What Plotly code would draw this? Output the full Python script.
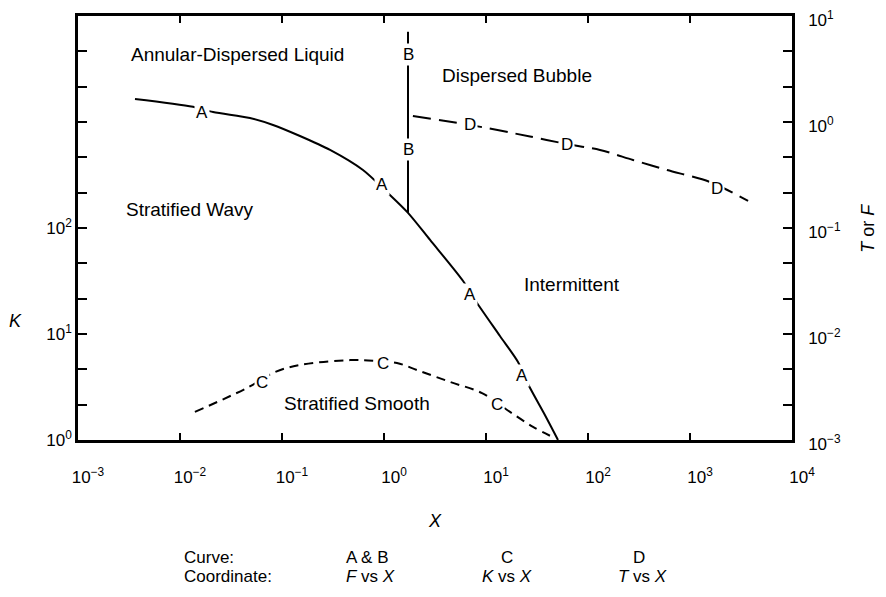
import numpy as np
import plotly.graph_objects as go

FONT = "Liberation Sans, Arial, Helvetica, sans-serif"

# ---- data ----
# Curve A: F vs X (right axis)
a_x = [0.00362, 0.0134, 0.0211, 0.0485, 0.0817, 0.150, 0.296, 0.622, 1.09, 1.72,
       2.83, 5.96, 8.17, 13.7, 20.6, 25.8, 37.8, 50.8]
a_f = [1.65, 1.39, 1.24, 1.09, 0.938, 0.738, 0.545, 0.352, 0.214, 0.139,
       0.0771, 0.0316, 0.0196, 0.00957, 0.00545, 0.00337, 0.00172, 0.001]
# Curve B: F vs X (right axis), vertical boundary
b_x = [1.72, 1.72]
b_f = [7.1, 0.139]
# Curve C: K vs X (left axis)
c_x = [0.0140, 0.0454, 0.0853, 0.150, 0.465, 0.85, 1.34, 2.11, 4.44, 9.14, 17.2, 28.9, 47.4]
c_k = [1.84, 3.10, 4.38, 5.10, 5.67, 5.56, 5.33, 4.57, 3.53, 2.77, 1.84, 1.33, 1.04]
# Curve D: T vs X (right axis)
d_x = [1.92, 6.97, 27.0, 62.2, 131, 276, 596, 1570, 3710]
d_t = [1.14, 0.938, 0.730, 0.619, 0.545, 0.438, 0.352, 0.272, 0.180]

# curve letter labels (X, value) on their curves
lab_a = [(0.0164, 1.24), (0.955, 0.255), (6.97, 0.0238), (22.5, 0.0041)]
lab_b = [(1.72, 4.29), (1.72, 0.545)]
lab_c = [(0.0637, 3.45), (0.977, 5.32), (12.8, 2.14)]
lab_d = [(6.97, 0.938), (62.2, 0.619), (1841, 0.238)]

# region names (paper position)
regions = ["Annular-Dispersed Liquid", "Dispersed Bubble", "Stratified Wavy",
           "Intermittent", "Stratified Smooth"]
region_x = [0.2227, 0.6148, 0.1569, 0.6912, 0.3901]
region_y = [0.9092, 0.8608, 0.5425, 0.3666, 0.0861]

# tick labels
x_tickvals = [10.0 ** k for k in range(-3, 5)]
x_ticktext = ["10<sup>" + str(k).replace("-", "\u2212") + "</sup>" for k in range(-3, 5)]
k_exp = [round(k / 3, 9) for k in range(0, 13)]
k_tickvals = [10.0 ** e for e in k_exp]
k_ticktext = [("10<sup>%d</sup>" % round(e)) if (abs(e - round(e)) < 1e-6 and round(e) <= 2) else ""
              for e in k_exp]
f_exp = [round(k / 3 - 3, 9) for k in range(0, 13)]
f_tickvals = [10.0 ** e for e in f_exp]
f_ticktext = [("10<sup>" + str(round(e)).replace("-", "\u2212") + "</sup>") if abs(e - round(e)) < 1e-6 else ""
              for e in f_exp]

table_cols = ["A & B", "C", "D"]
table_coords = ["<i>F</i> vs <i>X</i>", "<i>K</i> vs <i>X</i>", "<i>T</i> vs <i>X</i>"]
table_x = [0.4048, 0.6008, 0.7857]
table_x2 = [0.409, 0.6008, 0.7913]

fig = go.Figure()
fig.add_trace(go.Scatter(x=c_x, y=c_k, mode="lines", yaxis="y",
                         line=dict(color="black", width=2, dash="9px,6px", shape="spline", smoothing=1.0),
                         showlegend=False, hoverinfo="skip"))
fig.add_trace(go.Scatter(x=a_x, y=a_f, mode="lines", yaxis="y2",
                         line=dict(color="black", width=2, shape="spline", smoothing=0.8),
                         showlegend=False, hoverinfo="skip"))
fig.add_trace(go.Scatter(x=b_x, y=b_f, mode="lines", yaxis="y2",
                         line=dict(color="black", width=2),
                         showlegend=False, hoverinfo="skip"))
fig.add_trace(go.Scatter(x=d_x, y=d_t, mode="lines", yaxis="y2",
                         line=dict(color="black", width=2, dash="18px,8px", shape="spline", smoothing=0.8),
                         showlegend=False, hoverinfo="skip"))

ann = []
def curve_label(txt, pts, yref):
    for (xv, yv) in pts:
        ann.append(dict(x=np.log10(xv), y=np.log10(yv), xref="x", yref=yref, text=txt,
                        showarrow=False, bgcolor="white", borderpad=1,
                        xanchor="center", yanchor="middle",
                        font=dict(family=FONT, size=17, color="black")))

curve_label("A", lab_a, "y2")
curve_label("B", lab_b, "y2")
curve_label("C", lab_c, "y")
curve_label("D", lab_d, "y2")

def paper_text(t, xp, yp, size, xanchor="center", angle=0):
    ann.append(dict(x=xp, y=yp, xref="paper", yref="paper", text=t, showarrow=False,
                    xanchor=xanchor, yanchor="middle", textangle=angle,
                    font=dict(family=FONT, size=size, color="black")))

for t, xp, yp in zip(regions, region_x, region_y):
    paper_text(t, xp, yp, 19)

# axis titles
paper_text("<i>K</i>", -0.087, 0.280, 18)
paper_text("<i>X</i>", 0.50, -0.191, 18)
paper_text("<i>T</i> or <i>F</i>", 1.106, 0.50, 18, angle=-90)

# bottom table
paper_text("Curve:", 0.1457, -0.276, 17, xanchor="left")
paper_text("Coordinate:", 0.1457, -0.323, 17, xanchor="left")
for c, co, xp, xp2 in zip(table_cols, table_coords, table_x, table_x2):
    paper_text(c, xp, -0.276, 17)
    paper_text(co, xp2, -0.323, 17)

# the page body adds an 8px offset; size the figure so the plot area lands at
# x 78..792, y 16..440 of the window
fig.update_layout(
    width=878, height=589,
    margin=dict(l=70, r=94, t=8, b=157, autoexpand=False),
    paper_bgcolor="white", plot_bgcolor="white",
    font=dict(family=FONT, size=16, color="black"),
    xaxis=dict(type="log", range=[-3, 4], tickvals=x_tickvals, ticktext=x_ticktext,
               ticks="inside", ticklen=7, tickwidth=2, tickcolor="black",
               showline=True, linewidth=2.5, linecolor="black", mirror="ticks",
               showgrid=False, zeroline=False, ticklabelstandoff=20, ticklabelshift=10,
               ticklabeloverflow="allow",
               automargin=False, tickfont=dict(family=FONT, size=17)),
    yaxis=dict(type="log", range=[0, 4], tickvals=k_tickvals, ticktext=k_ticktext,
               ticks="inside", ticklen=9, tickwidth=2, tickcolor="black",
               showline=True, linewidth=2.5, linecolor="black", automargin=False,
               ticklabeloverflow="allow",
               showgrid=False, zeroline=False, tickfont=dict(family=FONT, size=17)),
    yaxis2=dict(type="log", range=[-3, 1], tickvals=f_tickvals, ticktext=f_ticktext,
                overlaying="y", side="right", automargin=False,
                ticks="inside", ticklen=9, tickwidth=2, tickcolor="black",
                showline=True, linewidth=2.5, linecolor="black",
                showgrid=False, zeroline=False, ticklabelstandoff=10, ticklabelshift=4,
                ticklabeloverflow="allow",
                tickfont=dict(family=FONT, size=17)),
    annotations=ann,
)

fig.write_html("out.html")
